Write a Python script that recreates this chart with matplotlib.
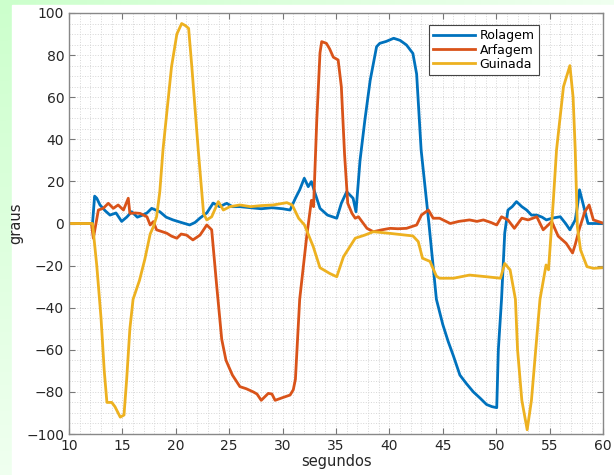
import numpy as np
import matplotlib
matplotlib.use('Agg')
from matplotlib import pyplot as plt
from matplotlib.patches import Rectangle
from matplotlib.ticker import MultipleLocator

# Rolagem (azul)
rol_t = [10, 12.2, 12.4, 12.6, 12.9, 13.4, 13.84, 14.4, 14.93, 15.4, 15.87, 16.4, 16.9, 17.3, 17.74,
         18.5, 19.1, 19.74, 20.5, 21.3, 21.8, 22.27, 22.9, 23.5, 24.1, 24.77, 25.3, 26, 27, 28, 29, 30,
         30.7, 31.2, 31.6, 32.03, 32.4, 32.7, 33.0, 33.5, 34.2, 35.07, 35.5, 36.0, 36.6, 36.87, 37.25,
         37.7, 38.2, 38.8, 39.1, 39.7, 40.4, 41.0, 41.6, 42.2, 42.55, 42.97, 43.7, 44.4, 45.0, 45.5,
         46.0, 46.6, 47.2, 47.86, 48.5, 49.1, 49.6, 50.05, 50.2, 50.5, 50.8, 51.1, 51.5, 51.9, 52.4,
         52.85, 53.3, 53.8, 54.3, 54.7, 55.3, 56.0, 56.5, 56.9, 57.4, 57.6, 57.8, 58.0, 58.2, 58.6, 60]
rol_v = [0, 0, 13, 12, 8.8, 6, 4, 5, 1, 3, 5.6, 3, 4, 5, 7.2,
         5.6, 3, 1.7, 0.5, -0.7, 0.5, 2.6, 5, 9.7, 8, 9.6, 8, 8, 7.5, 7, 7.5, 7,
         6.4, 12, 16, 21.5, 17.5, 19.9, 15, 7.2, 4, 2.5, 9.6, 15.1, 12, 5.6, 30,
         49, 68, 84, 85.6, 86.5, 88, 87, 84.8, 80.8, 71, 35, 0, -36, -48, -56,
         -63, -72, -76, -80, -83, -86, -87, -87.5, -60, -36, -4.5, 6.4, 8, 10.4, 8,
         6.4, 4, 4, 3, 1.7, 2.6, 3.2, 0, -3, 1.7, 8, 16, 12, 8, 0, 0]

# Arfagem (laranja)
arf_t = [10, 12.1, 12.28, 12.75, 13.2, 13.68, 14.15, 14.6, 15.1, 15.55, 15.7, 16.2, 16.65, 17.3, 17.6,
         17.9, 18.2, 19.15, 19.6, 20.1, 20.5, 21.0, 21.6, 22.27, 22.9, 23.36, 23.8, 24.3, 24.7, 25.3,
         26.0, 26.6, 27.25, 27.6, 28.0, 28.4, 28.66, 29.0, 29.3, 30.07, 30.7, 31.0, 31.2, 31.6, 32.26,
         32.7, 32.9, 33.2, 33.5, 33.66, 34.1, 34.4, 34.75, 35.2, 35.5, 35.8, 36.1, 36.5, 36.8, 37.1,
         37.9, 38.5, 39.3, 40.06, 40.8, 41.6, 42.55, 43.0, 43.65, 44.1, 44.7, 45.7, 46.5, 47.5, 48.2,
         48.8, 49.5, 50.05, 50.5, 51.1, 51.7, 52.4, 53.0, 53.8, 54.4, 55.2, 55.8, 56.55, 57.15, 57.4,
         57.8, 58.3, 58.7, 59.1, 60]
arf_v = [0, 0, -7, 6.4, 7.2, 9.6, 7.2, 8.8, 6.4, 12, 4.8, 5, 4.8, 3.2, -0.7,
         0.9, -3, -4.6, -6, -7, -5, -5.5, -7.8, -5.5, -0.7, -3, -28, -55, -65, -72,
         -77.5, -78.5, -80, -81, -84, -82, -80.7, -81, -84, -82.6, -81.5, -79, -74, -36, -6,
         11, 8, 49, 81, 86.4, 85.6, 83, 79, 77.7, 65, 33, 9.6, 4.8, 2.5, 3.2,
         -2.3, -3.9, -3, -2.3, -2.5, -2.3, -0.7, 4, 6.4, 2.5, 2.5, 0, 1, 1.7, 1,
         1.7, 0.5, -0.7, 3.2, 1.7, -2.3, 2.5, 1.7, 3.2, -3, 0.9, -6, -9.4, -14, -10,
         -2.3, 5.6, 8.8, 1.7, 0.2]

# Guinada (amarelo)
gui_t = [10, 12.2, 12.6, 13.0, 13.3, 13.55, 14.0, 14.3, 14.8, 15.15, 15.4, 15.7, 16.0, 16.6, 17.1,
         17.6, 17.9, 18.2, 18.5, 18.8, 19.6, 20.1, 20.55, 20.9, 21.2, 21.5, 22.1, 22.6, 22.9, 23.36,
         23.98, 24.45, 25.07, 26, 27, 28, 29.1, 30.4, 30.9, 31.5, 32.05, 32.87, 33.5, 34.4, 35.07,
         35.7, 36.3, 36.8, 37.7, 38.5, 40.06, 42.2, 42.7, 43.1, 43.8, 44.4, 44.7, 46, 47.5, 49.1,
         50.4, 50.8, 51.3, 51.8, 52.0, 52.4, 52.9, 53.3, 53.7, 54.1, 54.67, 54.9, 55.35, 55.65, 56.3,
         56.9, 57.2, 57.4, 57.6, 57.9, 58.5, 59.1, 60]
gui_v = [0, 0, -20, -45, -70, -85, -85, -87, -92, -91, -74, -50, -36, -27, -17,
         -5, -1.5, 3.2, 15, 35, 74.5, 90, 95, 94, 92.7, 74.5, 35, 4.8, 1.7, 3.2,
         10.4, 6.4, 8, 8.8, 8, 8.5, 8.8, 9.9, 8.8, 2.5, -0.7, -11, -21, -23.7, -25.3,
         -15.8, -11, -7, -5.5, -3.9, -4.7, -5.9, -8.6, -16.5, -18, -25, -26, -26, -24.5, -25.3,
         -26, -19, -22, -36, -60, -84, -98, -84, -60, -36, -19.7, -22, 11, 35, 65,
         75, 60, 35, -1.5, -12.6, -20.5, -21.3, -21]

fig = plt.figure(figsize=(6.14, 4.75), dpi=100)
fig.patch.set_facecolor('#eeffee')

# fundo verde em degradê
bg = fig.add_axes([0, 0, 1, 1], zorder=-10)
yy, xx = np.mgrid[0:1:200j, 0:1:200j]
d = np.clip(np.sqrt(xx**2 + yy**2), 0, 1)
c0 = np.array([0.80, 1.0, 0.80])
c1 = np.array([0.94, 1.0, 0.94])
img = c0[None, None, :] * (1 - d[..., None]) + c1[None, None, :] * d[..., None]
bg.imshow(img, extent=[0, 1, 0, 1], aspect='auto', origin='upper')
bg.add_patch(Rectangle((12 / 614, 0), 1, 1 - 5 / 475, color='white'))
bg.set_xlim(0, 1)
bg.set_ylim(0, 1)
bg.axis('off')

ax = fig.add_axes([69 / 614, 1 - 434 / 475, 534 / 614, 421 / 475])
ax.plot(rol_t, rol_v, color='#0072BD', lw=2.0, label='Rolagem')
ax.plot(arf_t, arf_v, color='#D95319', lw=2.0, label='Arfagem')
ax.plot(gui_t, gui_v, color='#EDB120', lw=2.0, label='Guinada')

ax.set_xlim(10, 60)
ax.set_ylim(-100, 100)
ax.xaxis.set_major_locator(MultipleLocator(5))
ax.yaxis.set_major_locator(MultipleLocator(20))
ax.xaxis.set_minor_locator(MultipleLocator(1))
ax.yaxis.set_minor_locator(MultipleLocator(5))
ax.grid(which='both', linestyle=':', color='#d6d6d6', lw=0.7)
ax.set_axisbelow(True)
ax.tick_params(which='major', direction='in', top=True, right=True, length=4,
               labelsize=10, colors='#777777', labelcolor='#262626')
ax.tick_params(which='minor', length=0)
for s in ax.spines.values():
    s.set_color('#888888')
    s.set_linewidth(1)

ax.set_xlabel('segundos', fontsize=10.5, color='#262626', labelpad=1)
ax.set_ylabel('graus', fontsize=10.5, color='#262626', labelpad=2)

leg = ax.legend(loc='upper right', bbox_to_anchor=(0.88, 0.9715), borderaxespad=0,
                fontsize=9, fancybox=False, framealpha=1, edgecolor='#444444',
                handlelength=3.3, handletextpad=0.4, labelspacing=0.1, borderpad=0.35)
leg.get_frame().set_linewidth(0.8)

fig.savefig('out.png', dpi=100, facecolor=fig.get_facecolor())
